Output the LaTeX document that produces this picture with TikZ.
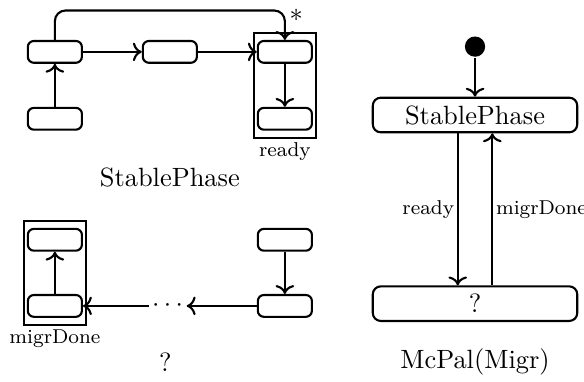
\documentclass[tikz,border=0pt]{standalone}
\usepackage{tikz}
\usetikzlibrary{arrows.meta, positioning, fit}

\begin{document}
\begin{tikzpicture}[thick,on grid,>={To},
        blk/.style={draw,rounded corners=2.3pt,minimum width=0.72cm,minimum height=0.29cm,inner sep=0pt},
        big/.style={draw,rounded corners=3pt,minimum width=2.72cm,minimum height=0.46cm,inner sep=0pt},
        frm/.style={draw,inner xsep=1.1pt,inner ysep=2.6pt},
        lbl/.style={font=\fontsize{7.6pt}{9pt}\selectfont,inner sep=1pt}]
      \useasboundingbox (0,0) rectangle (7.77,5.07);

      % StablePhase, sketched
      \node[blk] (s1) at (0.73,4.38) {};
      \node[blk] (s0) [below=0.89cm of s1] {};
      \node[blk] (s2) [right=1.53cm of s1] {};
      \node[blk] (s3) [right=1.53cm of s2] {};
      \node[blk] (s4) [below=0.89cm of s3] {};
      \node[frm,fit=(s3) (s4)] (rdy) {};
      \node[lbl,below] at (rdy.south) {ready};
      \node (sptitle) at (2.26,2.71) {StablePhase};
      \coordinate (lp) at (3.79,4.93);
      \node[inner sep=0pt] (star) at (3.94,4.86) {$*$};

      \draw[->] (s0) -- (s1);
      \draw[->] (s1) -- (s2);
      \draw[->] (s2) -- (s3);
      \draw[->] (s3) -- (s4);
      \draw[->,rounded corners=4pt] (s1.north) |- (lp) -- (s3.north);

      % the unknown phase
      \node[blk] (m1) at (0.73,1.88) {};
      \node[blk] (m0) [below=0.88cm of m1] {};
      \node[blk] (m3) [right=3.06cm of m1] {};
      \node[blk] (m4) [below=0.88cm of m3] {};
      \node[inner sep=1pt] (dots) [right=1.5cm of m0] {$\cdots$};
      \node[frm,fit=(m1) (m0)] (mgd) {};
      \node[lbl,below] at (mgd.south) {migrDone};
      \node (qtitle) at (2.2,0.25) {?};

      \draw[->] (m3) -- (m4);
      \draw[->] (m4) -- (dots);
      \draw[->] (dots) -- (m0);
      \draw[->] (m0) -- (m1);

      % McPal(Migr)
      \node[fill,circle,inner sep=0pt,minimum size=0.27cm] (ini) at (6.32,4.45) {};
      \node[big] (sp) at (6.32,3.54) {StablePhase};
      \node[big] (q) [below=2.51cm of sp] {?};
      \node (mctitle) at (6.32,0.25) {McPal(Migr)};

      \draw[->] (ini) -- (sp);
      \draw[->] ([xshift=-0.23cm]sp.south) -- node[lbl,left] {ready} ([xshift=-0.23cm]q.north);
      \draw[->] ([xshift=0.23cm]q.north) -- node[lbl,right] {migrDone} ([xshift=0.23cm]sp.south);
    \end{tikzpicture}
\end{document}
